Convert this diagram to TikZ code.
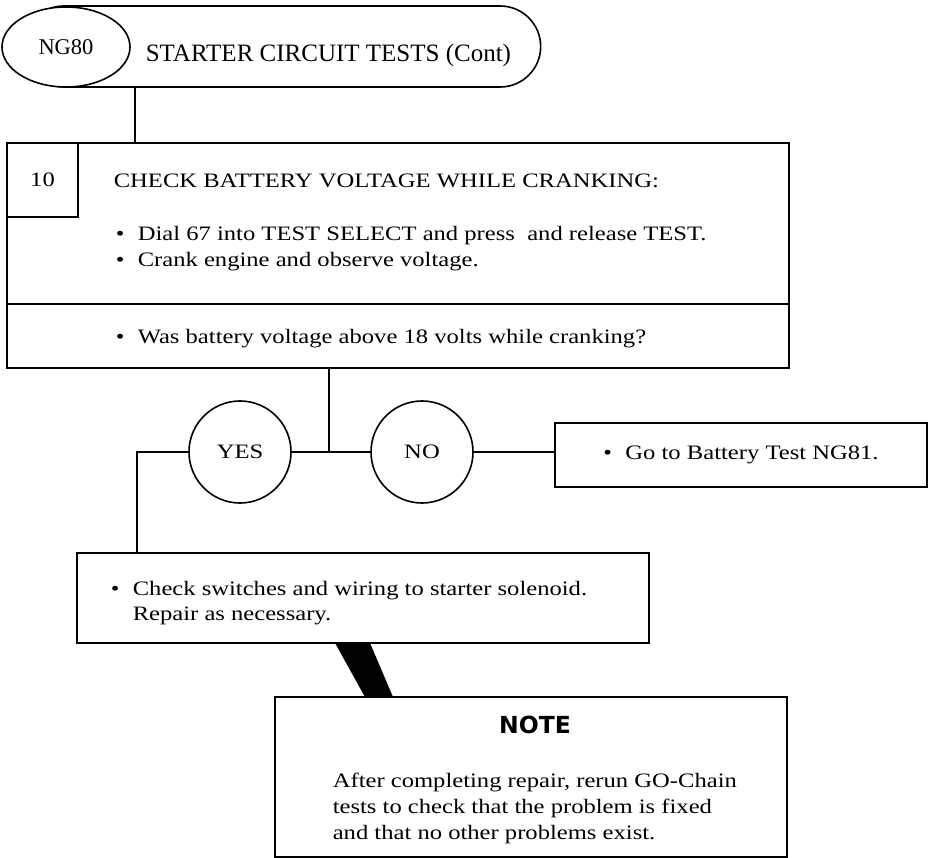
\documentclass[tikz,border=0pt]{standalone}
\usepackage{fontspec}
\setmainfont{Liberation Serif}[FakeStretch=1.2]
\newfontfamily\plainserif{Liberation Serif}
\newfontfamily\notefont{DejaVu Sans}
\usetikzlibrary{positioning,shapes.misc,shapes.geometric}
\newcommand{\blt}{\makebox[22pt][l]{\textbullet}}

\begin{document}
\begin{tikzpicture}[x=1pt,y=-1pt,line width=1.6pt,font=\fontsize{20.5}{26}\selectfont]
  \tikzstyle{box}=[draw,rectangle,inner sep=0pt,outer sep=0pt]
  \tikzstyle{txt}=[inner sep=0pt,anchor=base west]
  \tikzstyle{answer}=[draw,circle,minimum size=102pt,inner sep=0pt,outer sep=0pt]
  \useasboundingbox (0,0) rectangle (929,858);

  \node[draw,rounded rectangle,minimum width=524pt,minimum height=81pt,outer sep=0pt] (bar) at (282,46.5) {};
  \node[draw,ellipse,fill=white,minimum width=128pt,minimum height=80pt,inner sep=0pt,outer sep=0pt,
        font=\plainserif\fontsize{22.5}{26}\selectfont] (ng) at (66,47) {\raisebox{-4pt}{NG80}};
  \node[txt,font=\plainserif\fontsize{25}{30}\selectfont] (ttl) at (145,62) {STARTER CIRCUIT TESTS (Cont)};

  \node[box,minimum width=782pt,minimum height=161pt] (chk) at (398,223.5) {};
  \node[box,below=0pt of chk,minimum width=782pt,minimum height=64pt] (ask) {};
  \node[box,anchor=north west,minimum width=71pt,minimum height=74pt] (num) at (chk.north west) {10};
  \node[txt] (head) at (113,188) {CHECK BATTERY VOLTAGE WHILE CRANKING:};
  \node[txt] (s1) at (115,241) {\blt Dial 67 into TEST SELECT and press\ \ and release TEST.};
  \node[txt] (s2) at (115,267) {\blt Crank engine and observe voltage.};
  \node[txt] (q) at (115,344) {\blt Was battery voltage above 18 volts while cranking?};

  \coordinate (hj) at (135,0);
  \draw (hj |- bar.south) -- (hj |- chk.north);

  \node[answer] (yes) at (240,452) {YES};
  \node[answer] (no) at (422,452) {NO};
  \node[box,minimum width=372pt,minimum height=64pt] (go) at (741,455) {\blt Go to Battery Test NG81.};
  \coordinate (qj) at (329,452);
  \coordinate (yj) at (137,452);
  \draw (qj |- ask.south) -- (qj);
  \draw (yes.east) -- (no.west);
  \draw (no.east) -- (go.west |- no.east);

  \node[box,minimum width=572pt,minimum height=90pt] (fix) at (363,598) {};
  \node[txt] (f1) at (110,595) {\blt Check switches and wiring to starter solenoid.};
  \node[txt] (f2) at (132,620) {Repair as necessary.};
  \draw (yes.west) -- (yj) -- (yj |- fix.north);

  \node[box,minimum width=512pt,minimum height=160pt] (note) at (531,777) {};
  \node[font=\notefont\bfseries\fontsize{23.5}{28}\selectfont] (nt) at (535,725) {NOTE};
  \node[txt] (n1) at (332,787) {After completing repair, rerun GO-Chain};
  \node[txt] (n2) at (332,813) {tests to check that the problem is fixed};
  \node[txt] (n3) at (332,839) {and that no other problems exist.};
  \fill (335,643) -- (370,643) -- (393,697) -- (365,697) -- cycle;
\end{tikzpicture}
\end{document}
